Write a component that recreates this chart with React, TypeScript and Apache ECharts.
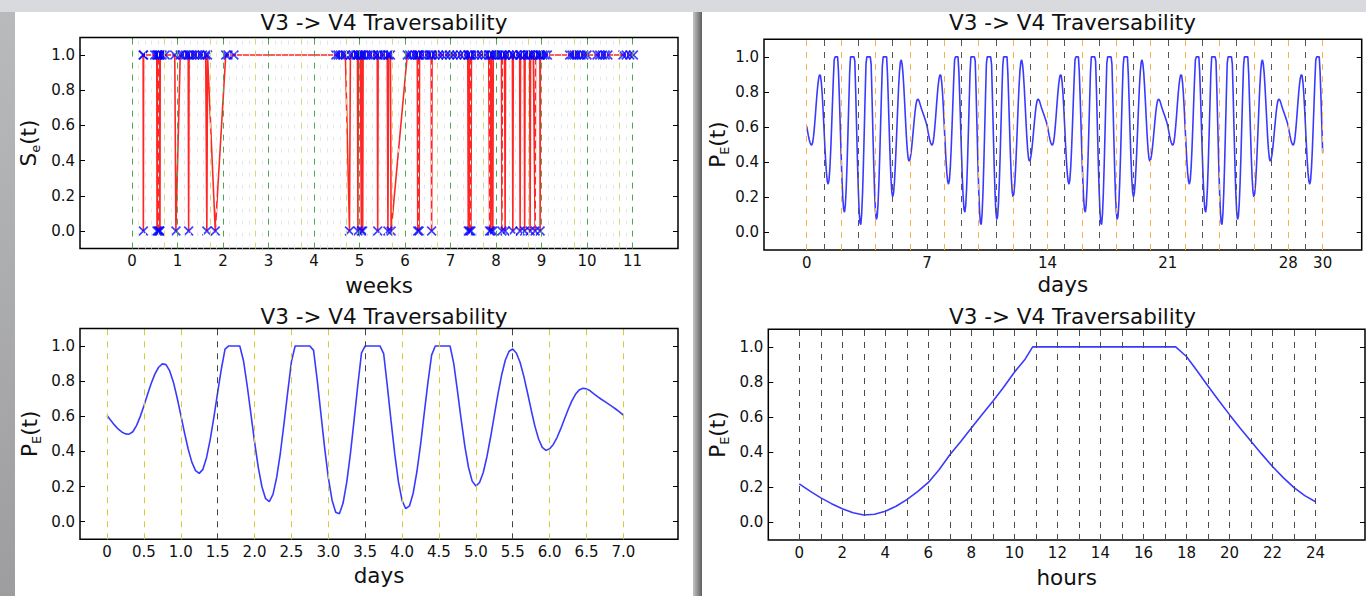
import React, { useEffect, useRef } from "react";
import * as echarts from "echarts";

const FONT = '"DejaVu Sans", "Liberation Sans", sans-serif';
const TITLE = "V3 -> V4 Traversability";

// ---------- tick labels ----------
const probTickValues = [0, 0.2, 0.4, 0.6, 0.8, 1.0];
const weekTickValues = [0, 1, 2, 3, 4, 5, 6, 7, 8, 9, 10, 11];
const monthDayTickValues = [0, 7, 14, 21, 28, 30];
const weekDayTickValues = [0, 0.5, 1, 1.5, 2, 2.5, 3, 3.5, 4, 4.5, 5, 5.5, 6, 6.5, 7];
const hourTickValues = [0, 2, 4, 6, 8, 10, 12, 14, 16, 18, 20, 22, 24];

// ---------- top-left: S_e(t) sampled states, time in weeks ----------
const eventWeeks = [
  0.245, 0.25, 0.255, 0.5, 0.545, 0.55, 0.555, 0.575, 0.58, 0.6, 0.605, 0.615, 0.62, 0.66, 0.73,
  0.94, 0.965, 1.06, 1.12, 1.18, 1.235, 1.245, 1.255, 1.31, 1.37, 1.43, 1.49, 1.55, 1.62, 1.645,
  1.66, 1.83, 2.06, 2.11, 2.24, 4.48, 4.53, 4.58, 4.63, 4.69, 4.78, 4.8, 4.86, 4.92, 4.955, 4.965,
  4.975, 5.02, 5.04, 5.05, 5.07, 5.08, 5.13, 5.19, 5.25, 5.31, 5.39, 5.4, 5.41, 5.47, 5.53, 5.61,
  5.625, 5.64, 5.68, 5.695, 6.05, 6.1, 6.16, 6.22, 6.27, 6.28, 6.29, 6.31, 6.32, 6.39, 6.46, 6.53,
  6.575, 6.585, 6.595, 6.66, 6.74, 6.82, 6.9, 6.98, 7.06, 7.14, 7.22, 7.3, 7.38, 7.39, 7.4, 7.42,
  7.43, 7.45, 7.46, 7.53, 7.6, 7.68, 7.76, 7.84, 7.86, 7.87, 7.89, 7.9, 7.93, 7.94, 8.0, 8.07,
  8.12, 8.13, 8.14, 8.19, 8.2, 8.21, 8.29, 8.36, 8.37, 8.38, 8.45, 8.52, 8.53, 8.54, 8.62, 8.63,
  8.64, 8.7, 8.74, 8.75, 8.76, 8.82, 8.86, 8.87, 8.93, 8.965, 8.97, 8.975, 9.03, 9.08, 9.13, 9.62,
  9.67, 9.72, 9.77, 9.82, 9.87, 9.93, 10.0, 10.22, 10.28, 10.34, 10.4, 10.46, 10.79, 10.86, 10.94,
  11.02,
];
const eventStates = [
  1, 0, 1, 1, 1, 0, 1, 0, 1, 0, 1, 0, 1, 1, 1,
  1, 0, 1, 1, 1, 1, 0, 1, 1, 1, 1, 1, 1, 1, 0,
  1, 0, 1, 1, 1, 1, 1, 1, 1, 1, 0, 1, 1, 1, 1, 0,
  1, 1, 0, 1, 0, 1, 1, 1, 1, 1, 1, 0, 1, 1, 1, 1,
  0, 1, 1, 0, 1, 1, 1, 1, 1, 0, 1, 0, 1, 1, 1, 1,
  1, 0, 1, 1, 1, 1, 1, 1, 1, 1, 1, 1, 1, 0, 1, 0,
  1, 0, 1, 1, 1, 1, 1, 1, 0, 1, 0, 1, 0, 1, 1, 1,
  1, 0, 1, 1, 0, 1, 1, 1, 0, 1, 1, 1, 0, 1, 1, 0,
  1, 1, 1, 0, 1, 1, 0, 1, 1, 1, 0, 1, 1, 1, 1, 1,
  1, 1, 1, 1, 1, 1, 1, 1, 1, 1, 1, 1, 1, 1, 1,
  1,
];

// ---------- weekly P_E(t) profile, one value every 0.05 day, days 0..7 ----------
const profileStepDays = 0.05;
const weekProfile = [
  0.605, 0.577, 0.551, 0.528, 0.511, 0.5, 0.498, 0.512, 0.547, 0.598,
  0.659, 0.725, 0.788, 0.841, 0.879, 0.898, 0.894, 0.858, 0.794, 0.707,
  0.608, 0.507, 0.414, 0.339, 0.291, 0.275, 0.298, 0.366, 0.47, 0.598,
  0.736, 0.869, 0.982, 1.0, 1.0, 1.0, 1.0, 0.916, 0.775, 0.615,
  0.454, 0.311, 0.199, 0.131, 0.115, 0.156, 0.252, 0.391, 0.561, 0.739,
  0.911, 1.0, 1.0, 1.0, 1.0, 1.0, 0.975, 0.804, 0.612, 0.42,
  0.251, 0.124, 0.054, 0.045, 0.106, 0.225, 0.389, 0.58, 0.778, 0.961,
  1.0, 1.0, 1.0, 1.0, 1.0, 0.957, 0.772, 0.575, 0.387, 0.228,
  0.12, 0.074, 0.09, 0.162, 0.283, 0.437, 0.616, 0.791, 0.948, 1.0,
  1.0, 1.0, 1.0, 1.0, 0.901, 0.746, 0.584, 0.432, 0.31, 0.231,
  0.203, 0.223, 0.28, 0.37, 0.482, 0.605, 0.728, 0.836, 0.92, 0.97,
  0.983, 0.959, 0.906, 0.827, 0.734, 0.636, 0.544, 0.471, 0.423, 0.406,
  0.415, 0.44, 0.479, 0.528, 0.583, 0.637, 0.686, 0.725, 0.75, 0.759,
  0.756, 0.745, 0.728, 0.712, 0.697, 0.683, 0.669, 0.655, 0.64, 0.624,
  0.606,
];

// ---------- one day of P_E(t), hours ----------
const hourTimes = [
  0, 0.5, 1, 1.5, 2, 2.5, 3, 3.5, 4, 4.5, 5, 5.5, 6, 6.5, 7, 7.5, 8, 8.5, 9, 9.5, 10, 10.5, 10.85,
  12, 14, 16, 17.5, 18, 18.5, 19, 19.5, 20, 20.5, 21, 21.5, 22, 22.5, 23, 23.5, 24,
];
const hourValues = [
  0.22, 0.178, 0.14, 0.107, 0.078, 0.055, 0.042, 0.047, 0.064, 0.092, 0.13, 0.175, 0.228, 0.3,
  0.385, 0.46, 0.538, 0.615, 0.69, 0.77, 0.855, 0.93, 1.0,
  1.0, 1.0, 1.0, 1.0, 0.945, 0.862, 0.777, 0.695, 0.614, 0.536, 0.462, 0.389, 0.319, 0.255, 0.198,
  0.153, 0.118,
];

const X_SYMBOL =
  "path://M0,1.2L1.2,0L5,3.8L8.8,0L10,1.2L6.2,5L10,8.8L8.8,10L5,6.2L1.2,10L0,8.8L3.8,5Z";

type VLine = { x: number; color: string; dash: number[] };

function weekGuides(): VLine[] {
  const out: VLine[] = [];
  for (let d = 0; d <= 77; d++) {
    if (d % 7 === 0 || d % 7 === 5) continue;
    out.push({ x: d / 7, color: "#e6e6e6", dash: [4, 8] });
  }
  for (let k = 0; k <= 10; k++) out.push({ x: k + 5 / 7, color: "#d9d67a", dash: [6, 6] });
  weekTickValues.forEach((w) => out.push({ x: w, color: "#4ea64e", dash: [6, 6] }));
  return out;
}
function monthGuides(): VLine[] {
  const out: VLine[] = [];
  for (let d = 0; d <= 28; d += 7) out.push({ x: d, color: "#6fbf6f", dash: [6, 6] });
  for (let d = 0; d <= 30; d++)
    out.push({ x: d, color: d % 2 === 0 ? "#f7b14e" : "#555555", dash: [6, 6] });
  return out;
}
function halfDayGuides(): VLine[] {
  return weekDayTickValues.map((v) => ({
    x: v,
    color: v === 1.5 || v === 3.5 || v === 5.5 ? "#444444" : "#d6cc3a",
    dash: [6, 6],
  }));
}
function hourGuides(): VLine[] {
  const out: VLine[] = [];
  for (let h = 0; h <= 24; h++) out.push({ x: h, color: "#4a4a4a", dash: [6, 6] });
  return out;
}

function buildOption() {
  const monthData: number[][] = [];
  const weekLen = weekProfile.length - 1;
  for (let i = 0; i <= 600; i++) monthData.push([+(i * profileStepDays).toFixed(2), weekProfile[i % weekLen]]);
  const weekData = weekProfile.map((v, i) => [+(i * profileStepDays).toFixed(2), v]);
  const hourData = hourTimes.map((h, i) => [h, hourValues[i]]);
  const eventData = eventWeeks.map((w, i) => [w, eventStates[i]]);

  const blue = { color: "#3a3aff", width: 1.6 };
  const panels = [
    {
      left: 80, top: 37.4, width: 598, height: 211.2, xMin: -8 / 7, xMax: 12,
      ticks: weekTickValues, fmt: (v: number) => String(v), xName: "weeks", xNameGap: 26,
      yName: "{m|S}{s|e}{m|(t)}", yNameGap: 38, titleX: 384, titleY: 22.5, guides: weekGuides(),
      series: {
        type: "line", data: eventData, symbol: X_SYMBOL, symbolSize: 10,
        itemStyle: { color: "rgba(0,0,255,0.75)" },
        lineStyle: { color: "rgba(255,0,0,0.85)", width: 1.6 },
      },
    },
    {
      left: 764, top: 39.3, width: 597.7, height: 210.7, xMin: -2.48, xMax: 32.27,
      ticks: monthDayTickValues, fmt: (v: number) => String(v), xName: "days", xNameGap: 23,
      yName: "{m|P}{s|E}{m|(t)}", yNameGap: 33, titleX: 1072.5, titleY: 22.5, guides: monthGuides(),
      series: { type: "line", data: monthData, showSymbol: false, lineStyle: blue },
    },
    {
      left: 80, top: 328.4, width: 598, height: 210.9, xMin: -0.366, xMax: 7.74,
      ticks: weekDayTickValues, fmt: (v: number) => (v === 0 ? "0" : v.toFixed(1)), xName: "days", xNameGap: 25,
      yName: "{m|P}{s|E}{m|(t)}", yNameGap: 37, titleX: 384, titleY: 316, guides: halfDayGuides(),
      series: { type: "line", data: weekData, showSymbol: false, lineStyle: blue },
    },
    {
      left: 768.3, top: 329.3, width: 596.7, height: 210.7, xMin: -1.44, xMax: 26.3,
      ticks: hourTickValues, fmt: (v: number) => String(v), xName: "hours", xNameGap: 26,
      yName: "{m|P}{s|E}{m|(t)}", yNameGap: 37, titleX: 1072.5, titleY: 316, guides: hourGuides(),
      series: { type: "line", data: hourData, showSymbol: false, lineStyle: blue },
    },
  ];

  const grid: any[] = [];
  const xAxis: any[] = [];
  const yAxis: any[] = [];
  const series: any[] = [];
  const graphic: any[] = [];
  const labelStyle = { fontSize: 15, color: "#111", fontFamily: FONT };
  const nameStyle = { fontSize: 21.5, color: "#111", fontFamily: FONT };
  const noLine = { show: false, onZero: false };

  panels.forEach((p, i) => {
    grid.push({
      left: p.left, top: p.top, width: p.width, height: p.height,
      show: true, borderColor: "#000", borderWidth: 1.5, backgroundColor: "transparent",
      outerBoundsMode: "none",
    });
    const tickCommon = { inside: true, length: 5, lineStyle: { color: "#000", width: 1 } };
    xAxis.push({
      type: "value", gridIndex: i, min: p.xMin, max: p.xMax, position: "bottom",
      axisLine: noLine, splitLine: { show: false },
      axisTick: { ...tickCommon, customValues: p.ticks },
      axisLabel: { ...labelStyle, margin: 5, customValues: p.ticks, formatter: p.fmt },
      name: p.xName, nameLocation: "middle", nameGap: p.xNameGap, nameTextStyle: nameStyle,
      nameMoveOverlap: false,
    });
    xAxis.push({
      type: "value", gridIndex: i, min: p.xMin, max: p.xMax, position: "top",
      axisLine: noLine, splitLine: { show: false },
      axisTick: { ...tickCommon, customValues: p.ticks },
      axisLabel: { show: false },
    });
    yAxis.push({
      type: "value", gridIndex: i, min: -0.1, max: 1.1, position: "left",
      axisLine: noLine, splitLine: { show: false },
      axisTick: { ...tickCommon, customValues: probTickValues },
      axisLabel: { ...labelStyle, margin: 5, customValues: probTickValues, formatter: (v: number) => v.toFixed(1) },
      name: p.yName, nameLocation: "middle", nameGap: p.yNameGap, nameMoveOverlap: false,
      nameTextStyle: {
        ...nameStyle,
        rich: {
          m: { fontSize: 21.5, lineHeight: 28, color: "#111", fontFamily: FONT },
          s: { fontSize: 13, lineHeight: 13, verticalAlign: "bottom", color: "#111", fontFamily: FONT },
        },
      },
    });
    yAxis.push({
      type: "value", gridIndex: i, min: -0.1, max: 1.1, position: "right",
      axisLine: noLine, splitLine: { show: false },
      axisTick: { ...tickCommon, customValues: probTickValues },
      axisLabel: { show: false },
    });
    series.push({
      type: "line", xAxisIndex: 2 * i, yAxisIndex: 2 * i, z: 1, silent: true,
      data: [[p.xMin, -1]], showSymbol: false, lineStyle: { opacity: 0 },
      markLine: {
        silent: true, symbol: ["none", "none"], label: { show: false }, animation: false,
        emphasis: { disabled: true },
        data: p.guides.map((g) => ({ xAxis: g.x, lineStyle: { color: g.color, type: g.dash, width: 1 } })),
      },
    });
    series.push({ ...p.series, xAxisIndex: 2 * i, yAxisIndex: 2 * i, z: 3, silent: true });
    graphic.push({
      type: "text", x: p.titleX, y: p.titleY, z: 10,
      style: {
        text: TITLE, fill: "#111", fontSize: 21.5, fontFamily: FONT,
        align: "center", verticalAlign: "middle", textAlign: "center", textVerticalAlign: "middle",
      },
    });
  });

  return {
    animation: false,
    backgroundColor: "transparent",
    textStyle: { fontFamily: FONT },
    grid, xAxis, yAxis, series, graphic,
  };
}

export default function App() {
  const ref = useRef<HTMLDivElement>(null);
  useEffect(() => {
    if (!ref.current) return;
    const chart = echarts.init(ref.current, undefined, { renderer: "svg" });
    chart.setOption(buildOption() as any);
    return () => chart.dispose();
  }, []);
  return (
    <div style={{ position: "fixed", left: 0, top: 0, width: 1366, height: 596, overflow: "hidden", background: "linear-gradient(180deg,#d8dadd,#c6c8cb)" }}>
      <div style={{ position: "absolute", left: 0, top: 12, width: 15, height: 584, background: "linear-gradient(180deg,#b9babc,#9d9d9f)" }} />
      <div style={{ position: "absolute", left: 15, top: 12, width: 678, height: 584, background: "#fff" }} />
      <div style={{ position: "absolute", left: 693, top: 12, width: 9, height: 584, background: "linear-gradient(90deg,#c4c4c4,#5e5e5e)" }} />
      <div style={{ position: "absolute", left: 702, top: 12, width: 664, height: 584, background: "#fff" }} />
      <div ref={ref} style={{ position: "absolute", left: 0, top: 0, width: 1366, height: 596 }} />
    </div>
  );
}
